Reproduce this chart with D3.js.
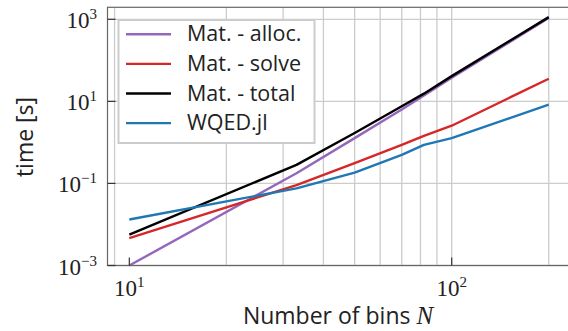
<!DOCTYPE html>
<html>
<head>
<meta charset="utf-8">
<script src="https://cdn.jsdelivr.net/npm/d3@7"></script>
<style>
  body { margin: 0; background: #fff; }
  svg { display: block; }
</style>
</head>
<body>
<svg width="568" height="331"></svg>
<script>
// bins N and timings in seconds
var bins = [10, 33, 50, 70, 82, 100, 200];
var allocTime = [0.001, 0.177, 1.27, 6.3, 13.9, 37.7, 1080];
var solveTime = [0.00467, 0.091, 0.311, 0.87, 1.45, 2.55, 35.6];
var totalTime = [0.00565, 0.283, 1.69, 7.6, 15.4, 41.2, 1130];
var wqedTime = [0.0132, 0.076, 0.183, 0.497, 0.873, 1.27, 8.3];

var seriesNames = ["Mat. - alloc.", "Mat. - solve", "Mat. - total", "WQED.jl"];
var seriesColors = ["#9467bd", "#d62728", "#000000", "#1f77b4"];
var seriesData = [allocTime, solveTime, totalTime, wqedTime];

var xTicks = [10, 100];
var xTickExp = ["1", "2"];
var yTicks = [1e-3, 1e-1, 1e1, 1e3];
var yTickExp = ["\u22123", "\u22121", "1", "3"];
var xGrid = [9, 20, 30, 40, 50, 60, 70, 80, 90, 100, 200];

(function() {
  var svg = d3.select("svg");
  var pLeft = 107.5, pRight = 570, pTop = 7.3, pBottom = 265.5;

  var x = d3.scaleLog().domain([8.557, 232.8]).range([pLeft, pRight]);
  var y = d3.scaleLog().domain([1e-3, 1960]).range([pBottom, pTop]);

  // grid
  svg.append("g").selectAll("line").data(xGrid).enter().append("line")
    .attr("x1", d => x(d)).attr("x2", d => x(d))
    .attr("y1", pTop).attr("y2", pBottom)
    .attr("stroke", "#cccccc").attr("stroke-width", 1.3);
  svg.append("g").selectAll("line").data(yTicks).enter().append("line")
    .attr("x1", pLeft).attr("x2", pRight)
    .attr("y1", d => y(d)).attr("y2", d => y(d))
    .attr("stroke", "#cccccc").attr("stroke-width", 1.3);

  // lines
  var line = d3.line().x((d, i) => x(bins[i])).y(d => y(d));
  var plot = svg.append("g");
  seriesData.forEach(function(s, k) {
    plot.append("path")
      .datum(s)
      .attr("d", line)
      .attr("fill", "none")
      .attr("stroke", seriesColors[k])
      .attr("stroke-width", 2.4)
      .attr("stroke-linejoin", "round");
  });

  // spines
  svg.append("rect")
    .attr("x", pLeft).attr("y", pTop)
    .attr("width", pRight - pLeft).attr("height", pBottom - pTop)
    .attr("fill", "none").attr("stroke", "#666").attr("stroke-width", 1.2);

  // inward ticks
  svg.append("g").selectAll("line").data(xTicks).enter().append("line")
    .attr("x1", d => x(d)).attr("x2", d => x(d))
    .attr("y1", pBottom).attr("y2", pBottom - 8)
    .attr("stroke", "#333").attr("stroke-width", 1.2);
  svg.append("g").selectAll("line").data(yTicks).enter().append("line")
    .attr("x1", pLeft).attr("x2", pLeft + 8)
    .attr("y1", d => y(d)).attr("y2", d => y(d))
    .attr("stroke", "#333").attr("stroke-width", 1.2);

  // tick labels
  var tickFont = "'Liberation Serif', 'DejaVu Serif', serif";
  function powLabel(sel, exp) {
    sel.append("tspan").text("10");
    sel.append("tspan").attr("font-size", 15).attr("dy", -9).text(exp);
  }
  xTicks.forEach(function(t, i) {
    var lab = svg.append("text")
      .attr("x", x(t)).attr("y", 296)
      .attr("text-anchor", "middle")
      .attr("font-family", tickFont).attr("font-size", 23).attr("fill", "#222");
    powLabel(lab, xTickExp[i]);
  });
  yTicks.forEach(function(t, i) {
    var lab = svg.append("text")
      .attr("x", 97).attr("y", y(t) + 9)
      .attr("text-anchor", "end")
      .attr("font-family", tickFont).attr("font-size", 23).attr("fill", "#222");
    powLabel(lab, yTickExp[i]);
  });

  // axis labels
  var sansFont = "'Open Sans', 'DejaVu Sans', sans-serif";
  var xl = svg.append("text")
    .attr("x", 338).attr("y", 324)
    .attr("text-anchor", "middle")
    .attr("font-family", sansFont).attr("font-size", 23).attr("fill", "#222");
  xl.append("tspan").text("Number of bins ");
  xl.append("tspan").attr("font-family", tickFont).attr("font-style", "italic")
    .attr("font-size", 25).text("N");

  svg.append("text")
    .attr("transform", "translate(33,137) rotate(-90)")
    .attr("text-anchor", "middle")
    .attr("font-family", sansFont).attr("font-size", 23).attr("fill", "#222")
    .text("time [s]");

  // legend
  var legend = svg.append("g");
  legend.append("rect")
    .attr("x", 118.5).attr("y", 20).attr("width", 196).attr("height", 123)
    .attr("fill", "#fff").attr("stroke", "#cccccc").attr("stroke-width", 2);
  seriesNames.forEach(function(name, i) {
    var ly = 34.3 + i * 29.6;
    legend.append("line")
      .attr("x1", 126).attr("x2", 171).attr("y1", ly).attr("y2", ly)
      .attr("stroke", seriesColors[i]).attr("stroke-width", 2.4);
    legend.append("text")
      .attr("x", 187).attr("y", ly + 7)
      .attr("font-family", sansFont).attr("font-size", 21.5).attr("fill", "#222")
      .text(name);
  });
})();
</script>
</body>
</html>
